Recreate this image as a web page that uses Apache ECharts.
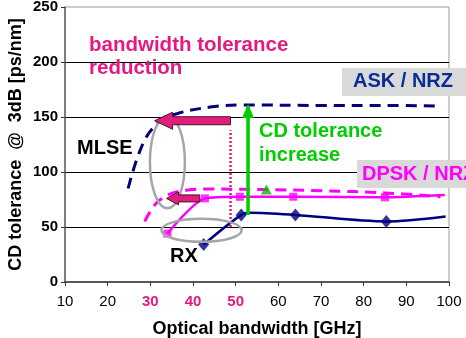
<!DOCTYPE html>
<html><head><meta charset="utf-8">
<script src="https://cdn.jsdelivr.net/npm/echarts@6/dist/echarts.min.js"></script>
<style>html,body{margin:0;padding:0;background:#fff}#c{width:466px;height:338px}</style>
</head><body><div id="c"></div>
<script>
// ---- data ----
var xTicks = [10,20,30,40,50,60,70,80,90,100];
var yTicks = [0,50,100,150,200,250];
var askMlse = [[24.8,85],[28.3,126],[32.2,146],[36.2,153],[44,159],[51.7,161],[70,160.5],[85,160.5],[97,160]];
var askRx = [[42.5,34],[51.3,61],[53.5,63],[64,61],[85.3,55],[99.2,59.5]];
var askRxMarkers = [[42.5,34],[51.3,61],[64,61],[85.3,55]];
var dpskMlse = [[28.7,55],[32.2,74.5],[38.5,83.5],[44,84.5],[57,84],[70,83],[85,81],[98,77.5]];
var dpskRx = [[34,44],[42.8,76],[51,77.5],[63.5,77.5],[85,77],[99,79]];
var greenTriangle = [[57.2,84]];
var cdIncrease = [[52.9,61],[52.9,160]];
var bwLimit = [[48.8,50],[48.8,138]];
var arrowBig = {from:[48.8,146.6], to:[31,146.6]};
var arrowSmall = {from:[41.6,76], to:[33.8,76]};
var ellMlse = {cx:34, cy:109, rx:4.1, ry:42};
var ellRx = {cx:42, cy:47, rx:9.4, ry:10.5};

var chart = echarts.init(document.getElementById('c'));
var F = 'Liberation Sans, Arial, sans-serif';
var pinkTick = {30:1,40:1,50:1};
var option = {
  animation:false,
  grid:{left:65,right:17,top:7,bottom:56,show:true,borderColor:'#999',borderWidth:1,outerBoundsMode:'none',containLabel:false},
  xAxis:{type:'value',min:10,max:100,interval:10,
    axisLine:{lineStyle:{color:'#333',width:1.5}},
    axisTick:{length:4,lineStyle:{color:'#333'}},
    splitLine:{show:false},
    axisLabel:{fontFamily:F,fontSize:15,color:'#000',margin:12,
      formatter:function(v){return pinkTick[v]?'{p|'+v+'}':'{n|'+v+'}';},
      rich:{p:{color:'#e6197f',fontWeight:'bold',fontFamily:F,fontSize:15},n:{color:'#000',fontFamily:F,fontSize:15}}},
    name:'Optical bandwidth [GHz]',nameLocation:'middle',nameGap:38,nameMoveOverlap:false,
    nameTextStyle:{fontFamily:F,fontSize:18,fontWeight:'bold',color:'#000'}},
  yAxis:{type:'value',min:0,max:250,interval:50,
    axisLine:{show:true,lineStyle:{color:'#666',width:1.5}},
    axisTick:{show:true,length:4,lineStyle:{color:'#333'}},
    splitLine:{show:true,showMinLine:false,showMaxLine:false,lineStyle:{color:'#000',width:1}},
    axisLabel:{fontFamily:F,fontSize:15,fontWeight:'bold',color:'#000',margin:7},
    name:'CD tolerance  @  3dB [ps/nm]',nameLocation:'middle',nameGap:40,nameMoveOverlap:false,
    nameTextStyle:{fontFamily:F,fontSize:18,fontWeight:'bold',color:'#000'}},
  series:[
    {type:'line',data:askMlse,smooth:0.4,symbol:'none',z:3,
     lineStyle:{color:'#000080',width:3,type:[11,7]}},
    {type:'line',data:dpskMlse,smooth:0.4,symbol:'none',z:3,
     lineStyle:{color:'#ff00ff',width:3,type:[11,7]}},
    {type:'line',data:dpskRx,smooth:0.25,symbol:'none',z:3,
     lineStyle:{color:'#ff00ff',width:2.5}},
    {type:'scatter',data:dpskRx.slice(0,5),symbol:'rect',symbolSize:8,z:4,itemStyle:{color:'#ff00ff'}},
    {type:'line',data:askRx,smooth:0.3,symbol:'none',z:3,
     lineStyle:{color:'#000080',width:2.5}},
    {type:'scatter',data:askRxMarkers,symbol:'diamond',symbolSize:[11,13],z:4,itemStyle:{color:'#000080'}},
    {type:'scatter',data:greenTriangle,symbol:'triangle',symbolSize:[11,10],z:4,itemStyle:{color:'#00c000'}},
    {type:'line',data:cdIncrease,symbol:'none',z:5,lineStyle:{color:'#00cc00',width:3.5}},
    {type:'line',data:bwLimit,symbol:'none',z:2,lineStyle:{color:'#e6197f',width:2.5,type:[2,2]}}
  ]
};
chart.setOption(option);

function P(p){return chart.convertToPixel({gridIndex:0},p);}
function arrowShape(a, bodyH, headH, headL){
  var s=P(a.from), t=P(a.to), y=s[1];
  var hx=t[0]+headL;
  return [[s[0],y-bodyH/2],[hx,y-bodyH/2],[hx,y-headH/2],[t[0],y],[hx,y+headH/2],[hx,y+bodyH/2],[s[0],y+bodyH/2]];
}
function ell(e){
  var c=P([e.cx,e.cy]), r=P([e.cx+e.rx,e.cy+e.ry]);
  return {cx:c[0],cy:c[1],rx:Math.abs(r[0]-c[0]),ry:Math.abs(c[1]-r[1])};
}
var g1=P(cdIncrease[1]);
var txt=function(x,y,t,c,size){return {type:'text',x:x,y:y,z:20,style:{text:t,fill:c,fontSize:size||20,fontWeight:'bold',fontFamily:F,verticalAlign:'middle',align:'left'}};};
chart.setOption({graphic:[
  {type:'ellipse',shape:ell(ellMlse),z:6,style:{fill:'none',stroke:'#a6a6a6',lineWidth:2.5}},
  {type:'ellipse',shape:ell(ellRx),z:6,style:{fill:'none',stroke:'#a6a6a6',lineWidth:2.5}},
  {type:'polygon',shape:{points:arrowShape(arrowBig,8,17,18)},z:10,style:{fill:'#e01f7a',stroke:'#4a1030',lineWidth:1}},
  {type:'polygon',shape:{points:arrowShape(arrowSmall,7,13,12)},z:10,style:{fill:'#e01f7a',stroke:'#4a1030',lineWidth:1}},
  {type:'polygon',shape:{points:[[g1[0]-6,g1[1]+12],[g1[0],g1[1]-2],[g1[0]+6,g1[1]+12]]},z:10,style:{fill:'#00cc00'}},
  txt(89,45,'bandwidth tolerance','#e6197f',20.5),
  txt(89,68,'reduction','#e6197f',20.5),
  {type:'rect',shape:{x:342,y:68,width:124,height:28},z:15,style:{fill:'#d9d9d9'}},
  txt(353,81,'ASK / NRZ','#0a2c96',20),
  {type:'rect',shape:{x:357,y:160,width:109,height:28},z:15,style:{fill:'#d9d9d9'}},
  txt(362,174,'DPSK / NRZ','#ff00ff',20),
  txt(259,131,'CD tolerance','#00cc00',20),
  txt(259,155,'increase','#00cc00',20),
  txt(77,148,'MLSE','#000',20),
  txt(170,256,'RX','#000',20)
]});
</script></body></html>
